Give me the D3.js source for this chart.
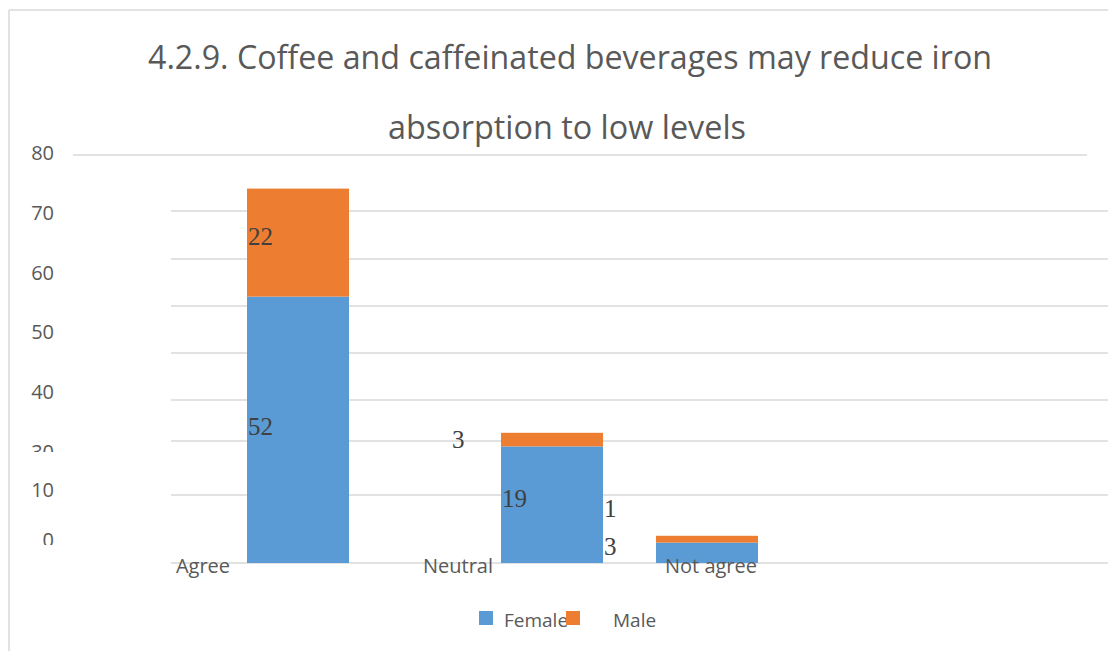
<!DOCTYPE html>
<html>
<head>
<meta charset="utf-8">
<script src="https://cdn.jsdelivr.net/npm/d3@7"></script>
<style>
  html, body { margin: 0; padding: 0; background: #fff; }
  svg { display: block; }
</style>
</head>
<body>
<svg id="chart" width="1108" height="651"></svg>
<script>
// ---- data ----
const categories = ["Agree", "Neutral", "Not agree"];
const female = [52, 19, 3];
const male = [22, 3, 1];
const seriesNames = ["Female", "Male"];
const gridValues = [0, 10, 20, 30, 40, 50, 60, 70, 80];
const tickLabels = ["80", "70", "60", "50", "40", "30", "10", "0"];
const titleLines = ["4.2.9. Coffee and caffeinated beverages may reduce iron", "absorption to low levels"];

// ---- layout ----
const W = 1108, H = 651;
const colors = { Female: "#5b9bd5", Male: "#ed7d31" };
const svg = d3.select("#chart");

// frame
svg.append("line").attr("x1", 9).attr("x2", W).attr("y1", 10).attr("y2", 10)
  .attr("stroke", "#d9d9d9").attr("stroke-width", 1.5);
svg.append("line").attr("x1", 9).attr("x2", 9).attr("y1", 10).attr("y2", H)
  .attr("stroke", "#d9d9d9").attr("stroke-width", 1.5);

// title
const titleG = svg.append("g").attr("font-family", "'Open Sans', sans-serif")
  .attr("font-size", 33).attr("fill", "#595959");
titleG.append("text").attr("x", 148).attr("y", 69).attr("textLength", 844)
  .attr("lengthAdjust", "spacingAndGlyphs").text(titleLines[0]);
titleG.append("text").attr("x", 388).attr("y", 139).attr("textLength", 358)
  .attr("lengthAdjust", "spacingAndGlyphs").text(titleLines[1]);

// y scale (the chart's value axis is unevenly spaced)
const y = d3.scaleLinear().domain(gridValues)
  .range([563, 495, 441, 400, 353, 306, 259, 211, 155]);
// tick label placement
const yLabel = d3.scaleLinear().domain([0, 10, 30, 80]).range([540, 489.5, 452, 153]);

// x placement
const xBar = d3.scaleOrdinal().domain(categories).range([247, 501, 656]);
const barW = 102;
const xCatLabel = d3.scaleOrdinal().domain(categories).range([203, 458, 711]);

// gridlines
svg.append("g").selectAll("line").data(gridValues).join("line")
  .attr("x1", d => d === 80 ? 73 : 171)
  .attr("x2", d => d === 80 ? 1087 : W)
  .attr("y1", d => y(d)).attr("y2", d => y(d))
  .attr("stroke", "#d9d9d9").attr("stroke-width", 1.5);

// y tick labels (partially clipped as in the original)
const defs = svg.append("defs");
const cp = defs.append("clipPath").attr("id", "ylabClip");
cp.append("rect").attr("x", 0).attr("y", 130).attr("width", 70).attr("height", 322);
cp.append("rect").attr("x", 0).attr("y", 478).attr("width", 70).attr("height", 67);
svg.append("g").attr("clip-path", "url(#ylabClip)")
  .attr("font-family", "'Open Sans', sans-serif").attr("font-size", 20).attr("fill", "#595959")
  .selectAll("text").data(tickLabels).join("text")
  .attr("x", 54).attr("y", d => yLabel(+d)).attr("dy", "0.35em")
  .attr("text-anchor", "end").text(d => d);

// stacked bars
const rows = categories.map((c, i) => ({ cat: c, Female: female[i], Male: male[i] }));
const stack = d3.stack().keys(seriesNames)(rows);
svg.append("g").selectAll("g").data(stack).join("g")
  .attr("fill", s => colors[s.key])
  .selectAll("rect").data(s => s).join("rect")
  .attr("x", d => xBar(d.data.cat)).attr("width", barW)
  .attr("y", d => y(d[1])).attr("height", d => y(d[0]) - y(d[1]));

// category labels
svg.append("g").attr("font-family", "'Open Sans', sans-serif").attr("font-size", 20)
  .attr("fill", "#595959")
  .selectAll("text").data(categories).join("text")
  .attr("x", d => xCatLabel(d)).attr("y", 573).attr("text-anchor", "middle").text(d => d);

// data labels (placed as in the original)
const labelDx = { "Agree|Female": 1, "Agree|Male": 1, "Neutral|Female": 1, "Neutral|Male": -49,
                  "Not agree|Female": -52, "Not agree|Male": -52 };
const labelDy = { "Agree|Female": 5, "Agree|Male": 2, "Neutral|Female": 2, "Neutral|Male": 8,
                  "Not agree|Female": 2, "Not agree|Male": -22 };
const labels = [];
stack.forEach(s => s.forEach(d => labels.push({ key: d.data.cat + "|" + s.key, cat: d.data.cat,
  v: d[1] - d[0], mid: (y(d[0]) + y(d[1])) / 2 })));
svg.append("g").attr("font-family", "'Liberation Serif', 'Times New Roman', serif")
  .attr("font-size", 25).attr("fill", "#404040")
  .selectAll("text").data(labels).join("text")
  .attr("x", d => xBar(d.cat) + labelDx[d.key])
  .attr("y", d => d.mid + labelDy[d.key])
  .text(d => d.v);

// legend
const lg = svg.append("g").attr("font-family", "'Open Sans', sans-serif").attr("font-size", 19)
  .attr("fill", "#595959");
const legendX = [479, 566];
const legendTextX = [504, 613];
seriesNames.forEach((n, i) => {
  lg.append("text").attr("x", legendTextX[i]).attr("y", 627).text(n);
});
seriesNames.forEach((n, i) => {
  lg.append("rect").attr("x", legendX[i]).attr("y", 611).attr("width", 14).attr("height", 14)
    .attr("fill", colors[n]);
});
</script>
</body>
</html>
